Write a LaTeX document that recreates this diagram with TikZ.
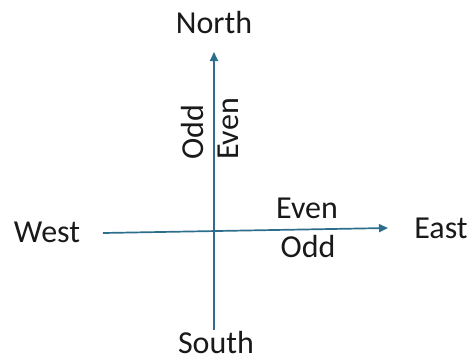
\documentclass[tikz,border=0pt]{standalone}
\usepackage{fontspec}
\setmainfont{Carlito}
\usetikzlibrary{arrows.meta}
\definecolor{axis}{RGB}{45,110,140}
\begin{document}
\begin{tikzpicture}[x=1pt,y=-1pt,
  lbl/.style={font=\fontsize{32}{38}\selectfont,text=black!90,inner sep=0pt,anchor=base},
  axisline/.style={draw=axis,line width=1.7pt,-{Triangle[length=9pt,width=8pt]}}]
\useasboundingbox (0,0) rectangle (472,360);
\coordinate (s0) at (214,330);
\coordinate (n0) at (214,52);
\coordinate (w0) at (103,233);
\coordinate (e0) at (388,228);
\draw[axisline] (s0) -- (n0);
\draw[axisline] (w0) -- (e0);
\node[lbl] (north) at (214,33) {North};
\node[lbl] (south) at (216,353) {South};
\node[lbl] (west) at (47,242) {West};
\node[lbl] (east) at (441,238) {East};
\node[lbl] (evenh) at (307,218) {Even};
\node[lbl] (oddh) at (308,257) {Odd};
\node[lbl,rotate=90] (oddv) at (203,132) {Odd};
\node[lbl,rotate=90] (evenv) at (238,129) {Even};
\end{tikzpicture}
\end{document}
